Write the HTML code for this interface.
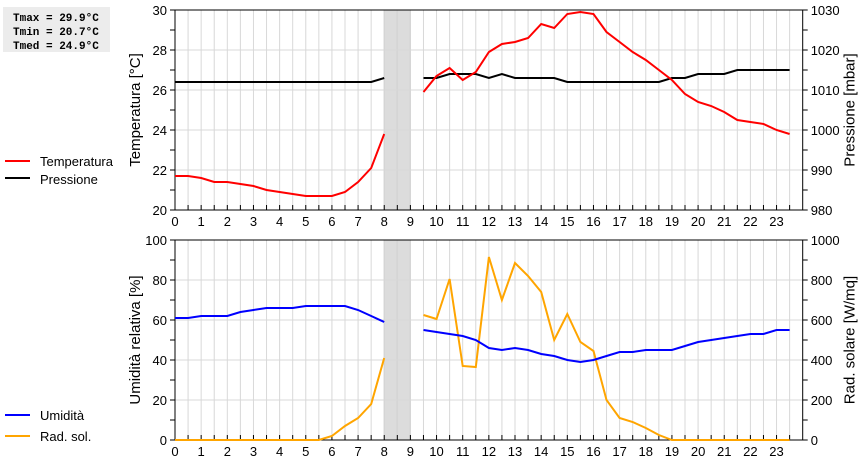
<!DOCTYPE html>
<html><head><meta charset="utf-8"><style>
body{margin:0;background:#fff;width:860px;height:460px;overflow:hidden;font-family:"Liberation Sans",sans-serif}
svg text{font-family:"Liberation Sans",sans-serif}
</style></head><body>
<svg id="c" width="860" height="460" xmlns="http://www.w3.org/2000/svg">
<rect x="3" y="7" width="107" height="45" fill="#ececec"/>
<text x="13" y="21" font-family="Liberation Mono" font-weight="bold" font-size="11" style="font-family:'Liberation Mono',monospace">Tmax = 29.9°C</text>
<text x="13" y="35" font-weight="bold" font-size="11" style="font-family:'Liberation Mono',monospace">Tmin = 20.7°C</text>
<text x="13" y="49" font-weight="bold" font-size="11" style="font-family:'Liberation Mono',monospace">Tmed = 24.9°C</text>
<g>
<line x1="5" y1="161" x2="30" y2="161" stroke="#f00" stroke-width="2"/><text x="40" y="166" font-size="13">Temperatura</text>
<line x1="5" y1="178" x2="30" y2="178" stroke="#000" stroke-width="2"/><text x="40" y="184" font-size="13">Pressione</text>
</g>
<g>
<line x1="5" y1="415" x2="30" y2="415" stroke="#00f" stroke-width="2"/><text x="40" y="420" font-size="13">Umidità</text>
<line x1="5" y1="436" x2="30" y2="436" stroke="orange" stroke-width="2"/><text x="40" y="441" font-size="13">Rad. sol.</text>
</g>
</svg>
<script>
const hours=[0,0.5,1,1.5,2,2.5,3,3.5,4,4.5,5,5.5,6,6.5,7,7.5,8,8.5,9,9.5,10,10.5,11,11.5,12,12.5,13,13.5,14,14.5,15,15.5,16,16.5,17,17.5,18,18.5,19,19.5,20,20.5,21,21.5,22,22.5,23,23.5];
const temp=[21.7,21.7,21.6,21.4,21.4,21.3,21.2,21.0,20.9,20.8,20.7,20.7,20.7,20.9,21.4,22.1,23.8,null,null,25.9,26.7,27.1,26.5,26.9,27.9,28.3,28.4,28.6,29.3,29.1,29.8,29.9,29.8,28.9,28.4,27.9,27.5,27.0,26.5,25.8,25.4,25.2,24.9,24.5,24.4,24.3,24.0,23.8];
const press=[1012,1012,1012,1012,1012,1012,1012,1012,1012,1012,1012,1012,1012,1012,1012,1012,1013,null,null,1013,1013,1014,1014,1014,1013,1014,1013,1013,1013,1013,1012,1012,1012,1012,1012,1012,1012,1012,1013,1013,1014,1014,1014,1015,1015,1015,1015,1015];
const hum=[61,61,62,62,62,64,65,66,66,66,67,67,67,67,65,62,59,null,null,55,54,53,52,50,46,45,46,45,43,42,40,39,40,42,44,44,45,45,45,47,49,50,51,52,53,53,55,55];
const rad=[0,0,0,0,0,0,0,0,0,0,0,0,20,70,110,180,410,null,null,625,605,805,370,365,915,700,885,820,740,500,630,490,445,200,110,90,60,25,0,0,0,0,0,0,0,0,0,0];
const xTicks=[0,1,2,3,4,5,6,7,8,9,10,11,12,13,14,15,16,17,18,19,20,21,22,23];
const tTicks=[20,22,24,26,28,30], pTicks=[980,990,1000,1010,1020,1030];
const hTicks=[0,20,40,60,80,100], rTicks=[0,200,400,600,800,1000];
const NS="http://www.w3.org/2000/svg", svg=document.getElementById('c');
const X0=175,X1=802.7;
const xs=h=>X0+(X1-X0)*h/24;
function el(t,a,p){const e=document.createElementNS(NS,t);for(const k in a)e.setAttribute(k,a[k]);(p||svg).appendChild(e);return e;}
function panel(name,top,bot,lmin,lmax,lTicks,rmin,rmax,rTk,lTitle,rTitle,s1,c1,s1min,s1max,s2,c2,s2min,s2max){
  const g=el('g',{});
  
  
  const yl=v=>bot-(bot-top)*(v-lmin)/(lmax-lmin);
  const sh=el('rect',{x:xs(8),y:top,width:xs(9)-xs(8),height:bot-top,fill:'#dcdcdc',stroke:'#bbb'},g);
  
  
  el('line',{x1:xs(8.5),y1:top,x2:xs(8.5),y2:bot,stroke:'#bbb'},g);
  for(let h=0.5;h<24;h+=0.5){el('line',{x1:xs(h),y1:top,x2:xs(h),y2:bot,stroke:'#d8d8d8'},g);}
  lTicks.forEach(v=>{el('line',{x1:X0,y1:yl(v),x2:X1,y2:yl(v),stroke:'#d8d8d8'},g);});
  el('rect',{x:X0,y:top,width:X1-X0,height:bot-top,fill:'none',stroke:'#000'},g);
  const step=(lTicks[1]-lTicks[0])/2;
  for(let v=lmin;v<=lmax+1e-9;v+=step){el('line',{x1:X0-5,y1:yl(v),x2:X0,y2:yl(v),stroke:'#000'},g);el('line',{x1:X1,y1:yl(v),x2:X1+5,y2:yl(v),stroke:'#000'},g);}
  lTicks.forEach(v=>{const t=el('text',{x:X0-8,y:yl(v)+5,'text-anchor':'end','font-size':13},g);t.textContent=v;});
  rTk.forEach((v,i)=>{const t=el('text',{x:X1+8,y:bot-(bot-top)*(v-rmin)/(rmax-rmin)+5,'font-size':13},g);t.textContent=v;});
  for(let h=0;h<24;h+=0.5){el('line',{x1:xs(h),y1:bot-5,x2:xs(h),y2:bot,stroke:'#000'},g);}
  xTicks.forEach(h=>{const t=el('text',{x:xs(h),y:bot+16,'text-anchor':'middle','font-size':13},g);t.textContent=h;});
  const lt=el('text',{x:0,y:0,'text-anchor':'middle','font-size':15,transform:`translate(${X0-35},${(top+bot)/2}) rotate(-90)`},g);lt.textContent=lTitle;
  const rt=el('text',{x:0,y:0,'text-anchor':'middle','font-size':15,transform:`translate(${X1+52},${(top+bot)/2}) rotate(-90)`},g);rt.textContent=rTitle;
  function line(arr,col,mn,mx,nm){
    let d='',pen=false;
    arr.forEach((v,i)=>{if(v===null){pen=false;return;}const y=bot-(bot-top)*(v-mn)/(mx-mn);d+=(pen?'L':'M')+xs(hours[i]).toFixed(1)+' '+y.toFixed(1);pen=true;});
    const p=el('path',{d:d,fill:'none',stroke:col,'stroke-width':2},g);
    
    
  }
  line(s2,c2,s2min,s2max,name+'-series-2');
  line(s1,c1,s1min,s1max,name+'-series-1');
}
panel('temp-press-panel',10,210,20,30,tTicks,980,1030,pTicks,'Temperatura [°C]','Pressione [mbar]',temp,'#f00',20,30,press,'#000',980,1030);
panel('hum-rad-panel',240,440,0,100,hTicks,0,1000,rTicks,'Umidità relativa [%]','Rad. solare [W/mq]',hum,'#00f',0,100,rad,'orange',0,1000);
</script>
</body></html>
